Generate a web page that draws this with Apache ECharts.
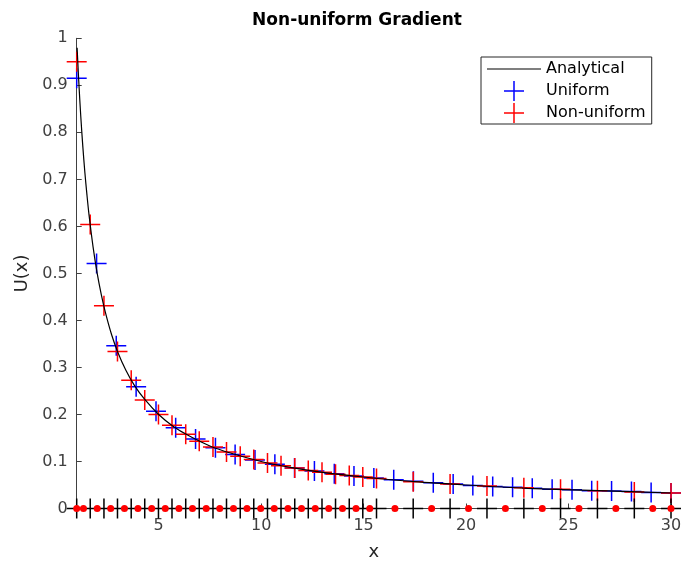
<!DOCTYPE html>
<html>
<head>
<meta charset="utf-8">
<script src="https://cdn.jsdelivr.net/npm/echarts@6/dist/echarts.min.js"></script>
<style>
  html, body { margin: 0; padding: 0; background: #fff; }
  #chart { width: 681px; height: 563px; }
</style>
</head>
<body>
<div id="chart"></div>
<script>
// analytical curve
const analyticalX = [1.02, 1.1, 1.2, 1.3, 1.4, 1.5, 1.6, 1.8, 2.0, 2.2, 2.4, 2.7, 3.0, 3.4, 3.8, 4.3, 5.0, 5.7, 6.5, 7.5, 8.5, 10, 11.5, 13, 15, 17.5, 20, 23, 26.5, 30]
const analyticalU = [0.980, 0.909, 0.833, 0.769, 0.714, 0.667, 0.625, 0.556, 0.500, 0.455, 0.417, 0.370, 0.333, 0.294, 0.263, 0.233, 0.200, 0.175, 0.154, 0.133, 0.118, 0.100, 0.087, 0.077, 0.067, 0.057, 0.050, 0.043, 0.038, 0.033]

// uniform grid faces
const uniformX = [1.00, 1.97, 2.93, 3.90, 4.87, 5.83, 6.80, 7.77, 8.73, 9.70, 10.67, 11.63, 12.60, 13.57, 14.53, 15.50, 16.47, 17.43, 18.40, 19.37, 20.33, 21.30, 22.27, 23.23, 24.20, 25.17, 26.13, 27.10, 28.07, 29.03, 30.00]
const uniformU = [0.915, 0.521, 0.346, 0.259, 0.207, 0.172, 0.148, 0.129, 0.115, 0.103, 0.094, 0.086, 0.080, 0.074, 0.069, 0.065, 0.061, 0.058, 0.055, 0.052, 0.049, 0.047, 0.045, 0.043, 0.041, 0.040, 0.038, 0.037, 0.036, 0.034, 0.033]

// non-uniform grid faces
const faceX = [1.00, 1.66, 2.33, 2.99, 3.66, 4.32, 4.99, 5.65, 6.32, 6.98, 7.65, 8.31, 8.98, 9.64, 10.31, 10.97, 11.64, 12.30, 12.97, 13.63, 14.30, 14.96, 15.63, 17.42, 19.22, 21.02, 22.82, 24.61, 26.41, 28.21, 30.00]
const nonUniformU = [0.950, 0.604, 0.431, 0.334, 0.273, 0.231, 0.200, 0.177, 0.158, 0.143, 0.131, 0.120, 0.111, 0.104, 0.097, 0.091, 0.086, 0.081, 0.077, 0.073, 0.070, 0.067, 0.064, 0.057, 0.052, 0.048, 0.044, 0.041, 0.038, 0.035, 0.033]

// non-uniform grid nodes (boundaries + cell centres)
const nodeX = [1.00, 1.33, 2.00, 2.66, 3.33, 3.99, 4.66, 5.32, 5.99, 6.65, 7.32, 7.98, 8.65, 9.31, 9.98, 10.64, 11.31, 11.97, 12.64, 13.30, 13.97, 14.63, 15.30, 16.53, 18.32, 20.12, 21.92, 23.72, 25.51, 27.31, 29.11, 30.00]

const xTicks = [5, 10, 15, 20, 25, 30]

const FONT = 'DejaVu Sans'
const plus = 'path://M9.25,0h1.5v9.25h9.25v1.5h-9.25v9.25h-1.5v-9.25h-9.25v-1.5h9.25z'
const plusIcon = 'path://M0,0L0,0M26.25,0h1.5v9.25h9.25v1.5h-9.25v9.25h-1.5v-9.25h-9.25v-1.5h9.25zM54,20L54,20'
const lineIcon = 'path://M0,0L0,0M0,9.4h54v1.2h-54zM54,20L54,20'

const pairs = (xs, ys) => xs.map((x, i) => [x, ys[i]])

const chart = echarts.init(document.getElementById('chart'), null, { renderer: 'canvas' })

chart.setOption({
  animation: false,
  backgroundColor: '#fff',
  title: {
    text: 'Non-uniform Gradient',
    left: 352,
    textAlign: 'center',
    top: 7,
    textStyle: { fontFamily: FONT, fontSize: 17, fontWeight: 'bold', color: '#000' }
  },
  grid: { left: 76.7, right: 10, top: 38.3, bottom: 54.5, outerBoundsMode: 'none' },
  legend: {
    orient: 'vertical',
    left: 481,
    top: 57,
    padding: [2, 6, 1, 6],
    itemWidth: 54,
    itemHeight: 20,
    itemGap: 2,
    borderColor: '#262626',
    borderWidth: 1,
    backgroundColor: '#fff',
    textStyle: { fontFamily: FONT, fontSize: 16, color: '#000' },
    data: [
      { name: 'Analytical', icon: lineIcon },
      { name: 'Uniform', icon: plusIcon, itemStyle: { opacity: 1 } },
      { name: 'Non-uniform', icon: plusIcon, itemStyle: { opacity: 1 } }
    ]
  },
  xAxis: {
    type: 'value',
    min: 1,
    max: 30,
    name: 'x',
    nameLocation: 'middle',
    nameGap: 35,
    nameTextStyle: { fontFamily: FONT, fontSize: 18, color: '#262626' },
    axisLine: { lineStyle: { color: '#404040', width: 1 } },
    axisTick: { inside: true, length: 5, customValues: xTicks, lineStyle: { color: '#404040' } },
    axisLabel: { customValues: xTicks, margin: 9, fontFamily: FONT, fontSize: 16, color: '#404040' },
    splitLine: { show: false }
  },
  yAxis: {
    type: 'value',
    min: 0,
    max: 1,
    interval: 0.1,
    name: 'U(x)',
    nameLocation: 'middle',
    nameGap: 45,
    nameTextStyle: { fontFamily: FONT, fontSize: 18, color: '#262626' },
    axisLine: { show: true, lineStyle: { color: '#404040', width: 1 } },
    axisTick: { show: true, inside: true, length: 5, lineStyle: { color: '#404040' } },
    axisLabel: { margin: 9, fontFamily: FONT, fontSize: 16, color: '#404040' },
    splitLine: { show: false }
  },
  series: [
    {
      name: 'Analytical',
      type: 'line',
      data: pairs(analyticalX, analyticalU),
      symbol: 'none',
      smooth: 0.3,
      color: '#000',
      lineStyle: { color: '#000', width: 1.2 }
    },
    {
      name: 'Uniform',
      type: 'scatter',
      data: pairs(uniformX, uniformU),
      symbol: plus,
      symbolSize: 20,
      color: '#0000ff',
      itemStyle: { color: '#0000ff', opacity: 1 }
    },
    {
      name: 'Non-uniform',
      type: 'scatter',
      data: pairs(faceX, nonUniformU),
      symbol: plus,
      symbolSize: 20,
      color: '#ff0000',
      itemStyle: { color: '#ff0000', opacity: 1 }
    },
    {
      name: 'faces',
      type: 'scatter',
      data: faceX.map(x => [x, 0]),
      symbol: plus,
      symbolSize: 20,
      clip: false,
      itemStyle: { color: '#000', opacity: 1 }
    },
    {
      name: 'nodes',
      type: 'scatter',
      data: nodeX.map(x => [x, 0]),
      symbol: 'circle',
      symbolSize: 7,
      clip: false,
      itemStyle: { color: '#ff0000', opacity: 1 }
    }
  ]
})
</script>
</body>
</html>
